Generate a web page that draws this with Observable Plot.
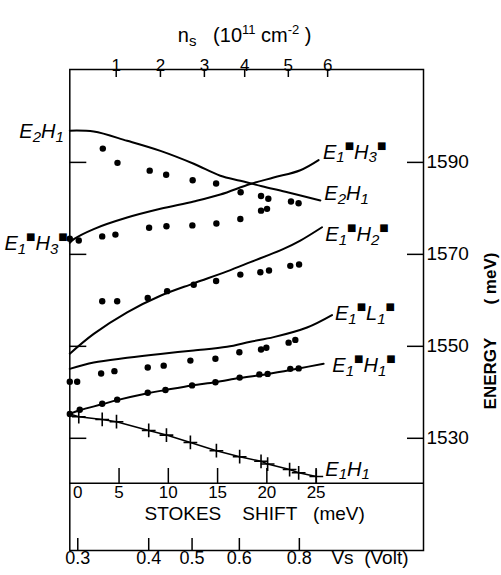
<!DOCTYPE html>
<html><head><meta charset="utf-8">
<script src="https://cdn.jsdelivr.net/npm/d3@7"></script>
<script src="https://cdn.jsdelivr.net/npm/@observablehq/plot@0.6"></script>
<style>html,body{margin:0;padding:0;background:#fff}svg{display:block}</style>
</head><body><div id="chart"></div>
<script>
// ---------- data (x = Stokes shift, meV; y = energy, meV) ----------
// measured dots
const e2h1DotS = [3.35, 4.84, 8.11, 9.78, 12.47, 14.85, 17.34, 19.41, 20.15, 22.45, 23.22];
const e2h1DotE = [1593.0, 1589.9, 1588.2, 1587.3, 1586.1, 1585.4, 1583.5, 1582.7, 1582.1, 1581.5, 1581.1];
const e1h3DotS = [0, 0.91, 3.29, 4.63, 8.05, 9.81, 12.44, 14.88, 17.31, 19.41, 20.02];
const e1h3DotE = [1573.4, 1573.0, 1573.9, 1574.3, 1575.8, 1576.1, 1576.3, 1576.7, 1577.7, 1579.5, 1579.9];
const e1h2DotS = [3.29, 4.81, 7.91, 9.88, 12.58, 14.85, 17.31, 19.34, 20.22, 22.38, 23.27];
const e1h2DotE = [1559.8, 1559.8, 1560.5, 1562.0, 1563.4, 1564.2, 1565.6, 1566.1, 1566.5, 1567.5, 1567.8];
const e1l1DotS = [0, 0.75, 3.18, 4.53, 7.91, 9.53, 12.24, 14.78, 17.21, 19.41, 19.95, 22.21, 22.89];
const e1l1DotE = [1542.3, 1542.3, 1544.1, 1544.6, 1545.4, 1545.8, 1546.9, 1547.3, 1548.7, 1549.3, 1549.7, 1550.8, 1551.4];
const e1h1sDotS = [0, 1.01, 3.29, 4.81, 7.91, 9.71, 12.41, 14.78, 17.24, 19.24, 20.08, 22.38, 23.23];
const e1h1sDotE = [1535.3, 1536.2, 1537.5, 1538.4, 1539.9, 1540.5, 1541.5, 1542.2, 1543.2, 1543.9, 1544.0, 1545.1, 1545.2];
const e1h1CrossS = [0.91, 3.29, 4.74, 8.01, 9.81, 12.24, 14.88, 17.24, 19.41, 20.08, 22.31, 23.23, 25.02];
const e1h1CrossE = [1534.7, 1534.1, 1533.6, 1531.7, 1530.7, 1529.1, 1527.3, 1526.0, 1525.0, 1524.4, 1523.2, 1522.5, 1521.7];

// calculated curves
const e2h1CurveS = [0, 2.43, 5.82, 9.2, 12.58, 15.28, 17.31, 19.5, 21.88, 25.43];
const e2h1CurveE = [1596.9, 1596.7, 1594.7, 1592.5, 1589.7, 1587.1, 1586.0, 1584.8, 1583.6, 1581.7];
const e1h3CurveS = [0, 0.41, 2.43, 5.82, 9.2, 12.58, 15.28, 18.33, 20.69, 23.4, 25.25];
const e1h3CurveE = [1572.5, 1573.3, 1575.5, 1578.0, 1579.9, 1581.5, 1583.0, 1585.3, 1586.7, 1588.3, 1590.5];
const e1h2CurveS = [0, 2.43, 5.82, 9.2, 12.58, 15.96, 18.33, 21.7, 23.4, 25.6];
const e1h2CurveE = [1548.4, 1552.7, 1557.4, 1561.0, 1563.7, 1566.3, 1568.3, 1571.2, 1573.0, 1575.9];
const e1l1CurveS = [0, 2.43, 5.82, 9.2, 12.58, 15.96, 18.33, 20.69, 24.08, 26.61];
const e1l1CurveE = [1545.1, 1546.5, 1547.5, 1548.35, 1549.1, 1549.9, 1551.0, 1552.0, 1554.1, 1556.8];
const e1h1sCurveS = [0, 1.01, 3.29, 4.81, 7.91, 9.71, 12.41, 14.78, 17.24, 20.08, 23.23, 25.76];
const e1h1sCurveE = [1535.3, 1536.1, 1537.4, 1538.3, 1539.8, 1540.5, 1541.5, 1542.2, 1543.1, 1544.0, 1545.2, 1546.2];
const e1h1LineStartS = [0];
const e1h1LineStartE = [1535.3];

// axes / ticks
const energyTicks = [1530, 1550, 1570, 1590];
const stokesTicks = [0, 5, 10, 15, 20, 25];
const nsLabels = ["1", "2", "3", "4", "5", "6"];
const nsAtStokes = [4.71, 9.2, 13.66, 17.75, 22.18, 26.17];
const vsLabels = ["0.3", "0.4", "0.5", "0.6", "0.8"];
const vsAtStokes = [0.81, 8.01, 12.41, 17.21, 23.3];
const stokesDomain = [0, 35.9];
const energyDomain = [1505.6, 1610.2];   // includes the lower Stokes/Vs box
const stokesAxisEnergy = 1520.2;          // energy level where the Stokes-shift axis line sits

const curveNames = ["E_{1}^{■}H_{3}^{■}", "E_{2}H_{1}", "E_{1}^{■}H_{2}^{■}", "E_{1}^{■}L_{1}^{■}", "E_{1}^{■}H_{1}^{■}", "E_{1}H_{1}"];

// ---------- build ----------
const rows = (xs, ys) => xs.map((x, i) => ({x, y: ys[i]}));
const W = 501, H = 575;
const mL = 69.3, mR = 78, mT = 69, mB = 25;
const plotW = W - mL - mR, plotH = H - mT - mB;
const boxH = 67; // height of lower Stokes/Vs box in px

const curves = {
  e2h1: rows(e2h1CurveS, e2h1CurveE),
  e1h3: rows(e1h3CurveS, e1h3CurveE),
  e1h2: rows(e1h2CurveS, e1h2CurveE),
  e1l1: rows(e1l1CurveS, e1l1CurveE),
  e1h1s: rows(e1h1sCurveS, e1h1sCurveE),
  e1h1: rows(e1h1LineStartS.concat(e1h1CrossS), e1h1LineStartE.concat(e1h1CrossE))
};
const dots = [].concat(
  rows(e2h1DotS, e2h1DotE), rows(e1h3DotS, e1h3DotE), rows(e1h2DotS, e1h2DotE),
  rows(e1l1DotS, e1l1DotE), rows(e1h1sDotS, e1h1sDotE));
const crosses = rows(e1h1CrossS, e1h1CrossE);

const first = a => [a[0]], last = a => [a[a.length - 1]];
const lineOpts = {x: "x", y: "y", stroke: "black", strokeWidth: 2, curve: "catmull-rom"};
const lab = (pt, name, dx, dy, anchor = "start") =>
  Plot.text(pt, {x: "x", y: "y", text: () => name, dx, dy, textAnchor: anchor,
    fontStyle: "italic", fontSize: 20});

const chart = Plot.plot({
  width: W, height: H,
  marginLeft: mL, marginRight: mR, marginTop: mT, marginBottom: mB,
  x: {domain: stokesDomain, axis: null},
  y: {domain: energyDomain, axis: null},
  style: {fontFamily: "'Liberation Sans', Arial, sans-serif", fontSize: "18px", color: "black", background: "white", overflow: "visible"},
  marks: [
    Plot.frame({stroke: "black", strokeWidth: 1.5}),
    Plot.ruleY([stokesAxisEnergy], {stroke: "black", strokeWidth: 1.5}),
    // energy ticks (inward on both sides)
    Plot.tickY(energyTicks, {y: d => d, insetRight: plotW - 17, strokeWidth: 1.5}),
    Plot.tickY(energyTicks, {y: d => d, insetLeft: plotW - 16, strokeWidth: 1.5}),
    Plot.text(energyTicks, {y: d => d, text: d => String(d), frameAnchor: "right", textAnchor: "start", dx: 3, fontSize: 19}),
    Plot.text(["ENERGY\u00a0\u00a0\u00a0\u00a0\u00a0\u00a0\u00a0(\u00a0meV)"], {frameAnchor: "right", textAnchor: "middle", rotate: -90, dx: 67, dy: 21, fontWeight: "bold", fontSize: 17}),
    // top n_s axis
    Plot.tickX(nsAtStokes, {x: d => d, insetBottom: plotH - 8, strokeWidth: 1.5}),
    Plot.text(nsLabels, {x: (d, i) => nsAtStokes[i], text: d => d, frameAnchor: "top", dy: -11, fontSize: 17}),
    Plot.text(["n_{s}\u00a0\u00a0\u00a0(10^{11}\u00a0cm^{-2}\u00a0)"], {frameAnchor: "top", dy: -41.5, dx: -2, fontSize: 20}),
    // Stokes shift axis
    Plot.tickX(stokesTicks.filter(d => d > 0), {x: d => d, insetTop: plotH - boxH - 15, insetBottom: boxH, strokeWidth: 1.5}),
    Plot.text(stokesTicks.filter(d => d > 0), {x: d => d, text: d => String(d), frameAnchor: "bottom", dy: -53, fontSize: 17}),
    Plot.text(stokesTicks.filter(d => d === 0), {x: d => d, text: d => String(d), frameAnchor: "bottom", dy: -53, dx: 8, fontSize: 17}),
    Plot.text(["STOKES\u00a0\u00a0\u00a0\u00a0SHIFT\u00a0\u00a0\u00a0(meV)"], {frameAnchor: "bottom", dy: -31, dx: 8, fontSize: 19}),
    // Vs axis
    Plot.tickX(vsAtStokes, {x: d => d, insetTop: plotH - 12, strokeWidth: 1.5}),
    Plot.text(vsLabels, {x: (d, i) => vsAtStokes[i], text: d => d, frameAnchor: "bottom", dy: 13.5, fontSize: 18}),
    Plot.text(["Vs\u00a0\u00a0(Volt)"], {frameAnchor: "bottom-right", textAnchor: "end", dx: -15, dy: 13.5, fontSize: 19}),
    // curves
    Plot.line(curves.e2h1, lineOpts),
    Plot.line(curves.e1h3, lineOpts),
    Plot.line(curves.e1h2, lineOpts),
    Plot.line(curves.e1l1, lineOpts),
    Plot.line(curves.e1h1s, lineOpts),
    Plot.line(curves.e1h1, {...lineOpts, curve: "linear", strokeWidth: 1.6}),
    Plot.dot(dots, {x: "x", y: "y", r: 3.2, fill: "black", stroke: "none"}),
    Plot.dot(crosses, {x: "x", y: "y", symbol: "plus", r: 4.5, stroke: "black", strokeWidth: 1.6}),
    // curve labels
    lab(last(curves.e1h3), curveNames[0], 4.4, -7.6),
    lab(last(curves.e2h1), curveNames[1], 4, -7),
    lab(last(curves.e1h2), curveNames[2], 3.3, 7.3),
    lab(last(curves.e1l1), curveNames[3], 3, -1),
    lab(last(curves.e1h1s), curveNames[4], 8.7, 2),
    lab(last(crosses), curveNames[5], 9, -7),
    lab(first(curves.e2h1), curveNames[1], -6, 1, "end"),
    lab(first(curves.e1h3), curveNames[0], -2, 1, "end")
  ]
});
document.getElementById("chart").appendChild(chart);

// turn _{..} / ^{..} markup into sub/superscript tspans
function richify(svg) {
  svg.querySelectorAll("text").forEach(t => {
    const src = t.textContent;
    if (!/[_^]\{/.test(src)) return;
    const fs = parseFloat(getComputedStyle(t).fontSize) || 20;
    const re = /([_^])\{([^}]*)\}/g;
    const parts = []; let lastI = 0, m;
    while ((m = re.exec(src))) {
      if (m.index > lastI) parts.push({k: "", s: src.slice(lastI, m.index)});
      parts.push({k: m[1], s: m[2]});
      lastI = re.lastIndex;
    }
    if (lastI < src.length) parts.push({k: "", s: src.slice(lastI)});
    while (t.firstChild) t.removeChild(t.firstChild);
    let cur = 0;
    for (const p of parts) {
      const sq = p.s === "■";
      const target = p.k === "_" ? fs * 0.18 : p.k === "^" ? -fs * (sq ? 0.5 : 0.42) : 0;
      const ts = document.createElementNS("http://www.w3.org/2000/svg", "tspan");
      ts.setAttribute("dy", (target - cur).toFixed(2));
      cur = target;
      if (p.k) ts.setAttribute("font-size", (fs * (sq ? 0.5 : p.k === "_" ? 0.75 : 0.65)).toFixed(1));
      if (sq) { ts.setAttribute("font-family", "DejaVu Sans"); ts.setAttribute("font-style", "normal"); }
      ts.textContent = p.s;
      t.appendChild(ts);
    }
  });
}
richify(chart);
</script>
</body></html>
